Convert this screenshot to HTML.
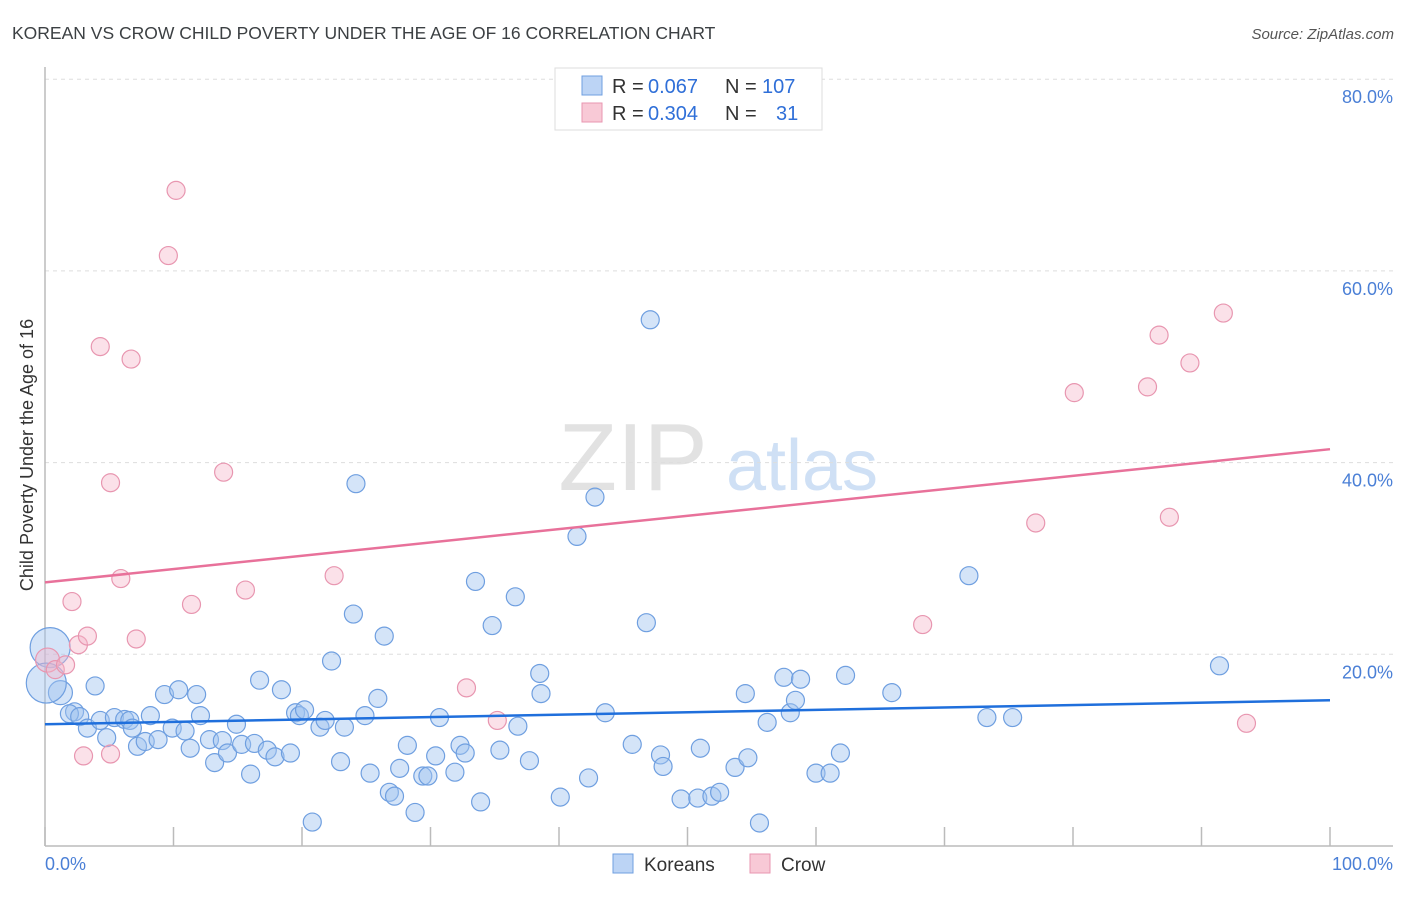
<!DOCTYPE html>
<html><head><meta charset="utf-8"><style>
body{margin:0;background:#fff;font-family:"Liberation Sans",sans-serif}
svg text{font-family:"Liberation Sans",sans-serif}
</style></head><body>
<svg id="chart" width="1406" height="892">
<text x="12" y="39" font-size="17.5" fill="#3c4043">KOREAN VS CROW CHILD POVERTY UNDER THE AGE OF 16 CORRELATION CHART</text>
<text x="1394" y="39" font-size="15" fill="#555" font-style="italic" text-anchor="end">Source: ZipAtlas.com</text>
<g><text x="633" y="490" font-size="96" font-family="Liberation Serif,serif" fill="#e2e2e2" text-anchor="middle">ZIP</text><text x="802" y="490" font-size="72" fill="#cfe0f5" text-anchor="middle">atlas</text></g>
<g id="grid"></g><g id="marks"></g>
<text x="-455" y="33" transform="rotate(-90)" font-size="18" fill="#333" text-anchor="middle">Child Poverty Under the Age of 16</text>
<text x="45" y="870" font-size="18" fill="#4a7fd6">0.0%</text>
<text x="1393" y="870" font-size="18" fill="#4a7fd6" text-anchor="end">100.0%</text>
<g>
<rect x="555" y="68" width="267" height="62" fill="#fff" stroke="#ddd"/>
<rect x="582" y="76" width="20" height="19" fill="#bcd4f5" stroke="#6f9fe0"/>
<rect x="582" y="103" width="20" height="19" fill="#f8c9d6" stroke="#e896b0"/>
<text x="612" y="93" font-size="20" fill="#333">R =</text>
<text x="648" y="93" font-size="20" fill="#2f6fd8">0.067</text>
<text x="725" y="93" font-size="20" fill="#333">N =</text>
<text x="762" y="93" font-size="20" fill="#2f6fd8">107</text>
<text x="612" y="120" font-size="20" fill="#333">R =</text>
<text x="648" y="120" font-size="20" fill="#2f6fd8">0.304</text>
<text x="725" y="120" font-size="20" fill="#333">N =</text>
<text x="776" y="120" font-size="20" fill="#2f6fd8">31</text>
</g>
<g>
<rect x="613" y="854" width="20" height="19" fill="#bcd4f5" stroke="#6f9fe0"/>
<text x="644" y="871" font-size="19" fill="#333">Koreans</text>
<rect x="750" y="854" width="20" height="19" fill="#f8c9d6" stroke="#e896b0"/>
<text x="781" y="871" font-size="19" fill="#333">Crow</text>
</g>
</svg>
<script>
const yTicks=[20,40,60,80];
const xTicks=[0,10,20,30,40,50,60,70,80,90,100];
const korX=[0.4,1.2,3.9,2.3,1.9,2.7,3.3,4.3,4.8,5.4,6.2,6.6,6.8,7.2,7.8,8.2,8.8,9.3,9.9,10.4,10.9,11.3,11.8,12.1,12.8,13.2,13.8,14.2,14.9,15.3,16.0,16.3,16.7,17.3,17.9,18.4,19.1,19.5,19.8,20.2,20.8,21.4,21.8,22.3,23.0,23.3,24.0,24.2,24.9,25.3,25.9,26.4,26.8,27.2,27.6,28.2,28.8,29.4,29.8,30.4,30.7,31.9,32.3,32.7,33.5,33.9,34.8,35.4,36.6,36.8,37.7,38.5,38.6,40.1,41.4,42.3,42.8,43.6,45.7,46.8,47.1,47.9,48.1,49.5,51.0,50.8,51.9,52.5,53.7,54.5,54.7,56.2,57.5,58.0,58.4,58.8,60.0,61.1,61.9,62.3,65.9,71.9,73.3,75.3,91.4,55.6,0.1];
const korY=[20.7,16.0,16.7,14.0,13.8,13.5,12.3,13.1,11.3,13.4,13.2,13.1,12.3,10.4,10.9,13.6,11.1,15.8,12.3,16.3,12.0,10.2,15.8,13.6,11.1,8.7,11.0,9.7,12.7,10.6,7.5,10.7,17.3,10.0,9.3,16.3,9.7,13.9,13.6,14.2,2.5,12.4,13.1,19.3,8.8,12.4,24.2,37.8,13.6,7.6,15.4,21.9,5.6,5.2,8.1,10.5,3.5,7.3,7.3,9.4,13.4,7.7,10.5,9.7,27.6,4.6,23.0,10.0,26.0,12.5,8.9,18.0,15.9,5.1,32.3,7.1,36.4,13.9,10.6,23.3,54.9,9.5,8.3,4.9,10.2,5.0,5.2,5.6,8.2,15.9,9.2,12.9,17.6,13.9,15.2,17.4,7.6,7.6,9.7,17.8,16.0,28.2,13.4,13.4,18.8,2.4,17.0];
const korSize=[20,12,9,9,9,9,9,9,9,9,9,9,9,9,9,9,9,9,9,9,9,9,9,9,9,9,9,9,9,9,9,9,9,9,9,9,9,9,9,9,9,9,9,9,9,9,9,9,9,9,9,9,9,9,9,9,9,9,9,9,9,9,9,9,9,9,9,9,9,9,9,9,9,9,9,9,9,9,9,9,9,9,9,9,9,9,9,9,9,9,9,9,9,9,9,9,9,9,9,9,9,9,9,9,9,9,20];
const crowX=[0.2,0.8,1.6,2.1,2.6,3.0,3.3,4.3,5.1,5.1,5.9,6.7,7.1,9.6,10.2,11.4,13.9,15.6,22.5,32.8,35.2,68.3,77.1,80.1,85.8,86.7,87.5,89.1,91.7,93.5];
const crowY=[19.4,18.4,18.9,25.5,21.0,9.4,21.9,52.1,37.9,9.6,27.9,50.8,21.6,61.6,68.4,25.2,39.0,26.7,28.2,16.5,13.1,23.1,33.7,47.3,47.9,53.3,34.3,50.4,55.6,12.8];
const korLine=[12.7,15.2];
const crowLine=[27.5,41.4];
const X0=45,X1=1330,Y0=846,Y100=846-958.5;
const sx=v=>X0+(X1-X0)*v/100;
const sy=v=>Y0-(Y0-Y100)*v/100;
const NS="http://www.w3.org/2000/svg";
const grid=document.getElementById('grid'),marks=document.getElementById('marks');
function mk(tag,attrs,parent){const e=document.createElementNS(NS,tag);for(const k in attrs)e.setAttribute(k,attrs[k]);parent.appendChild(e);return e;}
yTicks.forEach(t=>{
 const l=mk('line',{x1:45,x2:1393,y1:sy(t),y2:sy(t),stroke:'#ddd','stroke-dasharray':'4,4'},grid);
 
 
 const tx=mk('text',{x:1393,y:sy(t)+24,'font-size':18,fill:'#4a7fd6','text-anchor':'end'},grid);
 tx.textContent=t.toFixed(1)+'%';
 
 
});
const ax=mk('line',{x1:45,x2:45,y1:67,y2:846,stroke:'#bbb','stroke-width':1.5},grid);


const bx=mk('line',{x1:45,x2:1393,y1:846,y2:846,stroke:'#bbb','stroke-width':1.5},grid);


xTicks.forEach(t=>{
 const l=mk('line',{x1:sx(t),x2:sx(t),y1:827,y2:846,stroke:'#bbb','stroke-width':1.5},grid);
 
 
});
korX.forEach((x,i)=>{
 const c=mk('circle',{cx:sx(x),cy:sy(korY[i]),r:korSize[i],fill:'rgba(160,195,240,0.45)',stroke:'#6f9fe0','stroke-width':1.2},marks);
 
 
});
crowX.forEach((x,i)=>{
 const c=mk('circle',{cx:sx(x),cy:sy(crowY[i]),r:i==0?12:9,fill:'rgba(245,180,200,0.4)',stroke:'#e896b0','stroke-width':1.2},marks);
 
 
});
const kl=mk('line',{x1:sx(0),x2:sx(100),y1:sy(korLine[0]),y2:sy(korLine[1]),stroke:'#1f6fdc','stroke-width':2.5},marks);


const cl=mk('line',{x1:sx(0),x2:sx(100),y1:sy(crowLine[0]),y2:sy(crowLine[1]),stroke:'#e8719a','stroke-width':2.5},marks);


</script>
</body></html>
